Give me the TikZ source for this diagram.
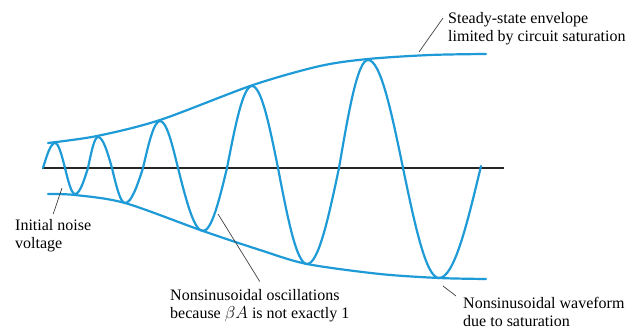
\documentclass[tikz,border=0pt]{standalone}
\usepackage{fontspec}
\setmainfont{Liberation Serif}
\definecolor{waveblue}{RGB}{30,155,215}

\begin{document}
\begin{tikzpicture}[
    x=1pt, y=-1pt,
    wave/.style={draw=waveblue, line width=2.2pt, line join=round, line cap=round},
    axisline/.style={draw=black!85, line width=2pt},
    lead/.style={draw=black!75, line width=0.7pt},
    note/.style={anchor=north west, inner sep=0pt, align=left,
        font=\fontsize{16}{18}\selectfont}
]
\useasboundingbox (0,0) rectangle (626,331);

% time axis
\coordinate (a0) at (42,168);
\coordinate (a1) at (504,168);
\draw[axisline] (a0) -- (a1);

% envelopes
\draw[wave] plot[smooth] coordinates {(48,143) (97,136) (160,120) (253,85)
    (320,66) (368,59) (430,55) (486,54)};
\draw[wave] plot[smooth] coordinates {(48,194) (75,195) (125,203) (203,231)
    (260,250) (307,264) (380,274) (439,278) (486,279)};

% growing oscillation
\draw[wave] (43,168) sin (55,143) cos (65,168) sin (75,194) cos (88,168)
    sin (98,137) cos (112,168) sin (125,203) cos (143,168)
    sin (160,121) cos (178,168) sin (203,231) cos (227,168)
    sin (252,86) cos (278,168) sin (307,264) cos (339,168)
    sin (368,60) cos (403,168) sin (439,278) cos (481,166);

% labels
\node[note] (steady) at (448,12.5) {Steady-state envelope\\limited by circuit saturation};
\node[note] (noise) at (15,219.5) {Initial noise\\voltage};
\node[note] (osc) at (170,289.5) {Nonsinusoidal oscillations\\because $\beta A$ is not exactly 1};
\node[note] (wform) at (463,297) {Nonsinusoidal waveform\\due to saturation};

\coordinate (envtip) at (419,52);
\coordinate (noisetip) at (62,188);
\coordinate (osctip) at (218,214);
\coordinate (wavetip) at (443,286);

\draw[lead] ([xshift=-5pt,yshift=-5.5pt]steady.north west) -- (envtip);
\draw[lead] ([yshift=5.5pt]noise.north) -- (noisetip);
\draw[lead] ([yshift=8pt]osc.north) -- (osctip);
\draw[lead] ([xshift=-7pt,yshift=1pt]wform.north west) -- (wavetip);
\end{tikzpicture}
\end{document}
